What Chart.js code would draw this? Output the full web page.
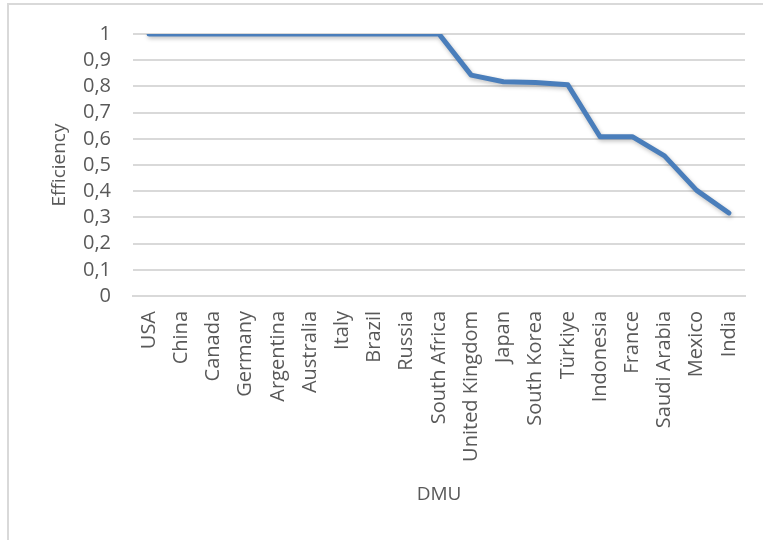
<!DOCTYPE html>
<html>
<head>
<meta charset="utf-8">
<script src="https://cdn.jsdelivr.net/npm/chart.js@4.4.1/dist/chart.umd.min.js"></script>
<style>
  body { margin: 0; background: #fff; }
  #wrap { position: absolute; left: 0; top: 0; width: 763px; height: 540px; }
  #frame { position: absolute; left: 7px; top: 3px; width: 756px; height: 537px;
           border-left: 2px solid #d9d9d9; border-top: 2px solid #d9d9d9; box-sizing: border-box; }
</style>
</head>
<body>
<div id="frame"></div>
<div id="wrap"><canvas id="mycanvas" width="763" height="540"></canvas></div>
<script>
var dmuNames = ['USA', 'China', 'Canada', 'Germany', 'Argentina', 'Australia', 'Italy', 'Brazil',
  'Russia', 'South Africa', 'United Kingdom', 'Japan', 'South Korea', 'Türkiye', 'Indonesia',
  'France', 'Saudi Arabia', 'Mexico', 'India'];
var efficiency = [1, 1, 1, 1, 1, 1, 1, 1, 1, 1, 0.843, 0.818, 0.815, 0.806, 0.608, 0.608, 0.535, 0.403, 0.317];
var yTicks = [0, 0.1, 0.2, 0.3, 0.4, 0.5, 0.6, 0.7, 0.8, 0.9, 1];

var fontFamily = "'Open Sans', sans-serif";
var textColor = '#595959';

// soft shadow under the line, like the office chart
var lineShadow = {
  id: 'lineShadow',
  beforeDatasetsDraw: function (chart) {
    var c = chart.ctx;
    c.save();
    c.shadowColor = 'rgba(0,0,0,0.25)';
    c.shadowBlur = 4;
    c.shadowOffsetX = 1;
    c.shadowOffsetY = 2;
  },
  afterDatasetsDraw: function (chart) {
    chart.ctx.restore();
  }
};

var chartdata = {
  labels: dmuNames,
  datasets: [{
    label: 'Efficiency',
    data: efficiency,
    borderColor: '#4a7ebb',
    backgroundColor: '#4a7ebb',
    borderWidth: 5,
    pointRadius: 0,
    tension: 0,
    borderJoinStyle: 'round',
    borderCapStyle: 'round'
  }]
};

var ctx = document.getElementById('mycanvas');

var lineGraph = new Chart(ctx, {
  type: 'line',
  data: chartdata,
  plugins: [lineShadow],
  options: {
    responsive: false,
    animation: false,
    layout: { padding: { left: 48, right: 18, top: 24, bottom: 30 } },
    plugins: { legend: { display: false }, tooltip: { enabled: false } },
    scales: {
      x: {
        offset: true,
        grid: { display: false },
        border: { color: '#d9d9d9', width: 2 },
        ticks: {
          color: textColor,
          font: { family: fontFamily, size: 20 },
          minRotation: 90,
          maxRotation: 90,
          autoSkip: false,
          padding: 7
        },
        title: {
          display: true,
          text: 'DMU',
          color: textColor,
          font: { family: fontFamily, size: 19 },
          padding: { top: 0, bottom: 4 }
        },
        afterFit: function (scale) { scale.height = 540 - 30 - 296; }
      },
      y: {
        min: 0,
        max: 1,
        afterBuildTicks: function (scale) {
          scale.ticks = yTicks.map(function (v) { return { value: v }; });
        },
        grid: { color: '#d9d9d9', lineWidth: 2, drawTicks: false },
        border: { display: false },
        ticks: {
          color: textColor,
          font: { family: fontFamily, size: 20 },
          padding: 22,
          autoSkip: false,
          callback: function (v) { return String(Math.round(v * 10) / 10).replace('.', ','); }
        },
        title: {
          display: true,
          text: 'Efficiency',
          color: textColor,
          font: { family: fontFamily, size: 19 },
          padding: 0
        },
        afterFit: function (scale) { scale.width = 133 - 48; }
      }
    }
  }
});
</script>
</body>
</html>
